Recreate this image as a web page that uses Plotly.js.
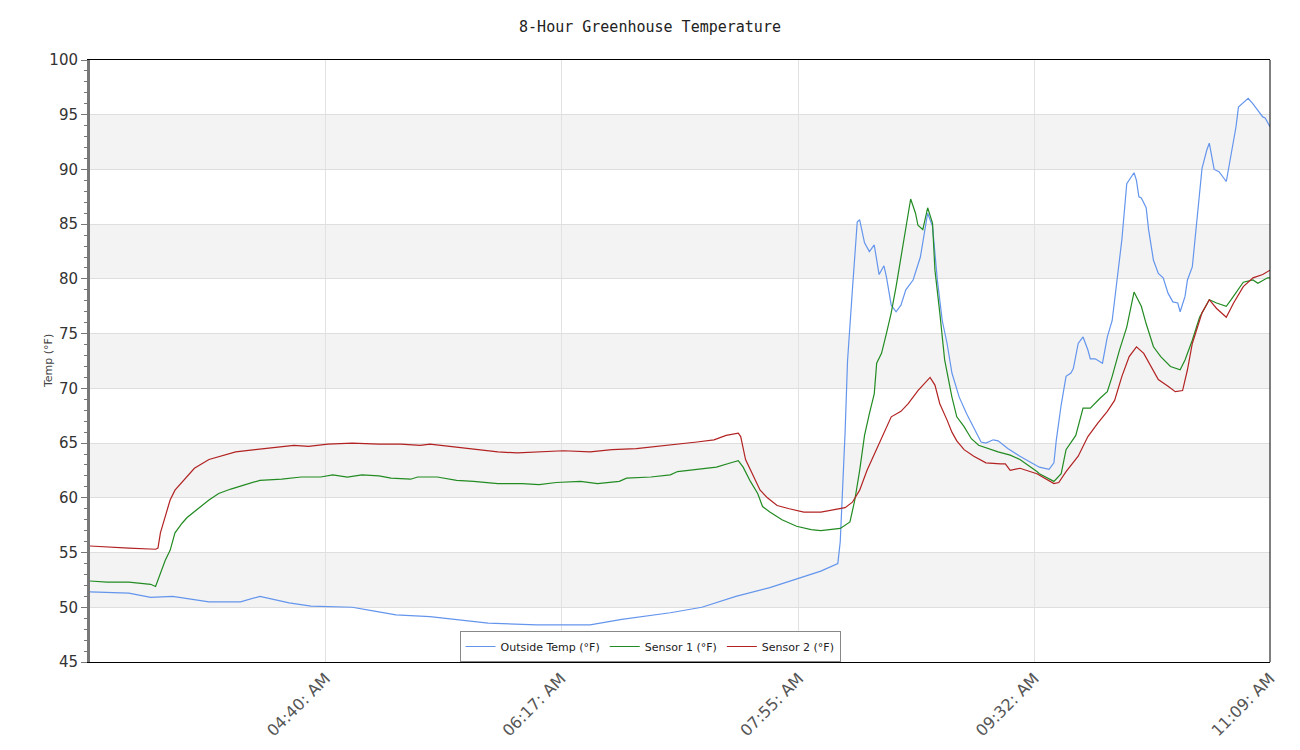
<!DOCTYPE html>
<html>
<head>
<meta charset="utf-8">
<script src="https://cdn.plot.ly/plotly-3.0.1.min.js"></script>
<style>html,body{margin:0;padding:0;background:#fff;}#chart{width:1300px;height:750px;}</style>
</head>
<body>
<div id="chart"></div>
<script>
var DAY = "2024-05-01 ";
var titleText = "8-Hour Greenhouse Temperature";
var yTitle = "Temp (°F)";
var seriesNames = ["Outside Temp (°F)", "Sensor 1 (°F)", "Sensor 2 (°F)"];
var seriesColors = ["#6495ED", "#228B22", "#B22222"];
var tickTimes = ["04:40", "06:17", "07:55", "09:32", "11:09"];
var tickLabels = ["04:40: AM", "06:17: AM", "07:55: AM", "09:32: AM", "11:09: AM"];
var xStart = "03:03", xEnd = "11:09";

var outsideTime = ["03:03","03:19","03:28","03:37","03:52","04:05","04:13","04:25","04:34","04:46","04:51","04:59","05:09","05:23","05:34","05:47","06:07","06:29","06:42","07:02","07:15","07:29","07:43","07:54","08:04","08:11","08:12","08:14","08:15","08:17","08:18","08:19","08:20","08:22","08:24","08:26","08:28","08:30","08:31","08:33","08:35","08:37","08:39","08:42","08:45","08:47","08:48","08:50","08:52","08:54","08:56","08:58","09:01","09:04","09:07","09:10","09:12","09:15","09:17","09:21","09:26","09:30","09:34","09:38","09:40","09:41","09:43","09:45","09:47","09:48","09:50","09:52","09:54","09:55","09:57","10:00","10:02","10:04","10:06","10:08","10:10","10:13","10:14","10:15","10:16","10:18","10:19","10:21","10:23","10:25","10:27","10:29","10:31","10:32","10:34","10:35","10:37","10:39","10:41","10:43","10:44","10:46","10:48","10:51","10:53","10:55","10:56","10:58","11:00","11:02","11:04","11:06","11:07","11:09"];
var outsideTemp = [51.4,51.3,50.9,51.0,50.5,50.5,51.0,50.4,50.1,50.0,50.0,49.7,49.3,49.15,48.9,48.55,48.4,48.4,48.9,49.5,50.0,51.0,51.8,52.6,53.3,54.0,56.0,66.0,72.5,79.0,82.4,85.2,85.4,83.3,82.5,83.1,80.4,81.2,80.2,77.6,77.0,77.6,79.0,79.9,82.0,84.5,86.0,84.8,79.9,76.2,74.1,71.4,69.2,67.7,66.4,65.1,65.0,65.3,65.2,64.5,63.8,63.3,62.8,62.6,63.2,65.3,68.5,71.1,71.4,71.8,74.1,74.7,73.5,72.7,72.7,72.3,74.7,76.2,79.9,83.6,88.7,89.7,89.0,87.5,87.4,86.5,84.5,81.7,80.5,80.1,78.7,77.9,77.8,77.0,78.4,79.9,81.1,85.4,90.1,91.8,92.4,90.0,89.8,88.9,91.5,93.9,95.7,96.1,96.5,96.0,95.4,94.8,94.7,93.9];

var sensor1Time = ["03:03","03:10","03:19","03:23","03:28","03:30","03:32","03:34","03:36","03:38","03:41","03:43","03:48","03:52","03:56","04:01","04:07","04:13","04:22","04:30","04:38","04:43","04:49","04:55","05:02","05:07","05:15","05:18","05:26","05:34","05:41","05:51","06:01","06:08","06:15","06:25","06:32","06:41","06:44","06:54","07:02","07:05","07:13","07:21","07:27","07:30","07:32","07:35","07:38","07:40","07:43","07:48","07:54","08:00","08:04","08:12","08:16","08:18","08:20","08:22","08:24","08:26","08:27","08:29","08:31","08:33","08:35","08:38","08:40","08:41","08:43","08:44","08:46","08:48","08:50","08:51","08:53","08:55","08:58","09:00","09:03","09:06","09:09","09:17","09:22","09:26","09:33","09:34","09:40","09:43","09:45","09:49","09:52","09:55","09:59","10:02","10:04","10:07","10:10","10:13","10:16","10:18","10:21","10:24","10:28","10:32","10:34","10:37","10:40","10:44","10:47","10:51","10:53","10:58","11:02","11:04","11:08","11:09"];
var sensor1Temp = [52.4,52.3,52.3,52.2,52.1,51.9,53.1,54.3,55.2,56.8,57.7,58.2,59.1,59.8,60.4,60.8,61.2,61.6,61.7,61.9,61.9,62.1,61.9,62.1,62.0,61.8,61.7,61.9,61.9,61.6,61.5,61.3,61.3,61.2,61.4,61.5,61.3,61.5,61.8,61.9,62.1,62.4,62.6,62.8,63.2,63.4,62.8,61.5,60.4,59.2,58.7,58.0,57.4,57.1,57.0,57.2,57.8,59.8,62.5,65.7,67.7,69.5,72.3,73.2,75.0,76.9,79.3,83.3,86.0,87.3,86.0,84.9,84.5,86.5,85.1,80.8,76.9,72.6,69.2,67.4,66.5,65.4,64.8,64.2,63.9,63.5,62.4,62.2,61.5,62.2,64.4,65.7,68.2,68.2,69.1,69.7,71.1,73.5,75.6,78.8,77.5,75.9,73.8,72.9,72.0,71.7,72.6,74.4,76.5,78.1,77.8,77.5,78.1,79.7,79.9,79.6,80.1,80.1];

var sensor2Time = ["03:03","03:10","03:19","03:30","03:31","03:32","03:34","03:36","03:38","03:42","03:46","03:52","03:57","04:03","04:11","04:19","04:27","04:33","04:41","04:51","05:02","05:11","05:19","05:23","05:34","05:42","05:51","05:59","06:07","06:18","06:29","06:38","06:48","06:57","07:05","07:13","07:20","07:25","07:30","07:31","07:33","07:36","07:39","07:42","07:46","07:51","07:57","08:04","08:09","08:14","08:17","08:20","08:23","08:27","08:30","08:33","08:37","08:40","08:44","08:47","08:49","08:51","08:53","08:56","08:58","09:00","09:03","09:07","09:12","09:18","09:20","09:22","09:26","09:33","09:36","09:40","09:42","09:45","09:50","09:54","09:58","10:02","10:05","10:08","10:11","10:14","10:17","10:20","10:23","10:27","10:30","10:33","10:35","10:37","10:41","10:44","10:47","10:51","10:54","10:58","11:02","11:06","11:09"];
var sensor2Temp = [55.6,55.5,55.4,55.3,55.4,56.8,58.3,59.8,60.7,61.7,62.7,63.5,63.8,64.2,64.4,64.6,64.8,64.7,64.9,65.0,64.9,64.9,64.8,64.9,64.6,64.4,64.2,64.1,64.2,64.3,64.2,64.4,64.5,64.7,64.9,65.1,65.3,65.7,65.9,65.6,63.5,62.1,60.7,60.0,59.3,59.0,58.7,58.7,58.9,59.1,59.6,60.7,62.5,64.4,65.9,67.4,67.9,68.6,69.8,70.5,71.0,70.3,68.6,67.1,66.0,65.2,64.4,63.8,63.2,63.1,63.1,62.5,62.7,62.2,61.8,61.3,61.4,62.4,63.8,65.6,66.8,67.9,68.9,71.1,72.9,73.8,73.2,72.0,70.8,70.2,69.7,69.8,71.7,74.1,76.9,78.1,77.3,76.5,77.8,79.3,80.1,80.4,80.8];

function toDates(arr){ return arr.map(function(t){ return DAY + t; }); }

var times = [outsideTime, sensor1Time, sensor2Time];
var temps = [outsideTemp, sensor1Temp, sensor2Temp];
var traces = [];
for (var i = 0; i < 3; i++) {
  traces.push({
    x: toDates(times[i]), y: temps[i], type: "scatter", mode: "lines",
    name: seriesNames[i], line: {color: seriesColors[i], width: 1.2}
  });
}

var shapes = [];
for (var b = 50; b < 100; b += 10) {
  shapes.push({type: "rect", xref: "paper", x0: 0, x1: 1, yref: "y", y0: b, y1: b + 5,
    fillcolor: "#f3f3f3", line: {width: 0}, layer: "below"});
}
shapes.push({type: "line", xref: "paper", x0: 1, x1: 1, yref: "paper", y0: 0, y1: 1,
  line: {color: "#000", width: 1}});

var layout = {
  width: 1300, height: 750,
  margin: {l: 90, r: 30, t: 60, b: 88},
  paper_bgcolor: "#fff", plot_bgcolor: "#fff",
  title: {text: titleText, x: 0.5, xanchor: "center", y: 0.964, yanchor: "middle",
    font: {family: "DejaVu Sans Mono, monospace", size: 15, color: "#222"}},
  showlegend: true,
  legend: {orientation: "h", x: 0.4746, xanchor: "center", y: 0.0, yanchor: "bottom",
    bgcolor: "#fff", bordercolor: "#888", borderwidth: 1,
    font: {family: "DejaVu Sans, sans-serif", size: 11, color: "#222"},
    itemwidth: 30, tracegroupgap: 0},
  annotations: [{text: yTitle, xref: "paper", x: 0, xanchor: "center", xshift: -42,
    yref: "paper", y: 0.5, yanchor: "middle", textangle: -90, showarrow: false,
    font: {family: "DejaVu Sans, sans-serif", size: 11, color: "#444"}}],
  xaxis: {
    type: "date", range: [DAY + xStart, DAY + xEnd],
    tickvals: toDates(tickTimes), ticktext: tickLabels, tickangle: -45,
    tickfont: {family: "DejaVu Sans, sans-serif", size: 16, color: "#555"},
    showgrid: true, gridcolor: "#e2e2e2", gridwidth: 1,
    showline: true, linecolor: "#000", linewidth: 1, mirror: true,
    ticks: "", zeroline: false, fixedrange: true
  },
  yaxis: {
    range: [45, 100], tickvals: [45,50,55,60,65,70,75,80,85,90,95,100],
    tickfont: {family: "DejaVu Sans, sans-serif", size: 15, color: "#333"},
    ticks: "outside", ticklen: 6, tickcolor: "#777", tickwidth: 1,
    minor: {dtick: 1, ticks: "outside", ticklen: 3, tickcolor: "#777", showgrid: false},
    showgrid: true, gridcolor: "#dedede", gridwidth: 1,
    showline: true, linecolor: "#777", linewidth: 3, mirror: false,
    zeroline: false
  },
  shapes: shapes
};

Plotly.newPlot("chart", traces, layout, {staticPlot: true, displayModeBar: false});
</script>
</body>
</html>
